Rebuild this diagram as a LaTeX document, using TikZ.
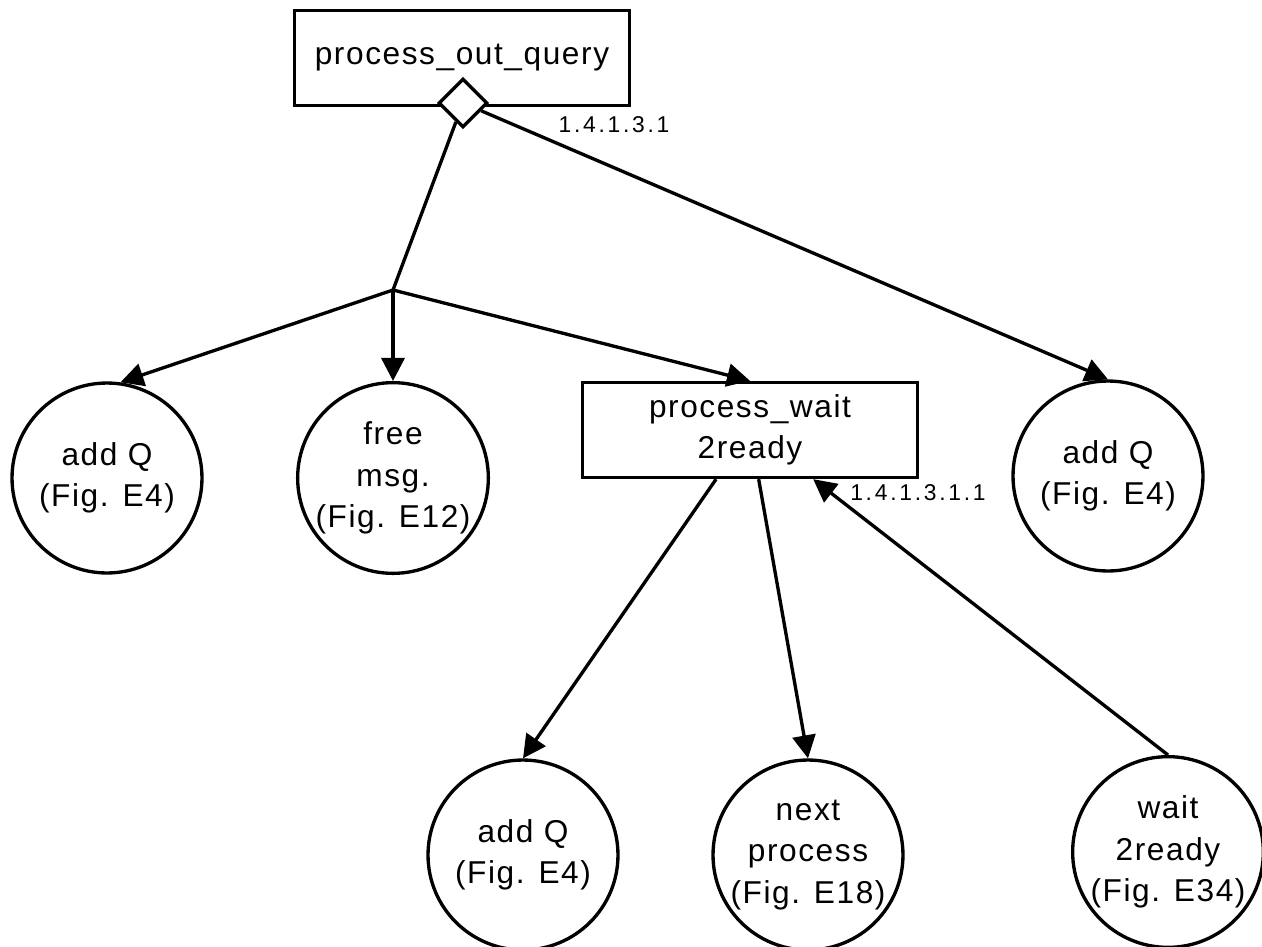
\documentclass[tikz,border=0pt]{standalone}
\usepackage{fontspec}
\setmainfont{Liberation Sans}
\newfontfamily\boxfont[LetterSpace=5]{Liberation Sans}
\newfontfamily\numfont[LetterSpace=12]{Liberation Sans}
\usetikzlibrary{arrows.meta,shapes.geometric}

\begin{document}
\begin{tikzpicture}[x=0.02cm, y=-0.02cm, line width=1.9pt,
  >={Triangle[length=4.6mm,width=4.6mm]},
  every node/.style={font=\boxfont\fontsize{18}{23.5}\selectfont, align=center},
  proc/.style={draw, rectangle, minimum width=6.7cm, minimum height=1.9cm, inner sep=0pt},
  ref/.style={draw, circle, minimum size=3.8cm, inner sep=0pt},
  num/.style={font=\numfont\fontsize{13}{15}\selectfont}]
\useasboundingbox (0,0) rectangle (1262,947);
\node [proc] (outq) at (462,58) {process\_out\_query};
\node [draw, diamond, fill=white, minimum size=0.98cm, inner sep=0pt] (sel) at (463,103) {};
\node [num] (n1) at (614,125) {1.4.1.3.1};
\coordinate (fork) at (393,290);
\node [ref] (addq1) at (107,478) {add Q\\(Fig. E4)};
\node [ref] (free) at (393,478) {free\\msg.\\(Fig. E12)};
\node [proc] (pwait) at (750,430) {process\_wait\\2ready};
\node [num] (n2) at (918,493) {1.4.1.3.1.1};
\node [ref] (addq2) at (1108,476) {add Q\\(Fig. E4)};
\node [ref] (addq3) at (523,855) {add Q\\(Fig. E4)};
\node [ref] (next) at (808,855) {next\\process\\(Fig. E18)};
\node [ref] (wait) at (1168,852) {wait\\2ready\\(Fig. E34)};
% branches
\draw (sel) -- (fork);
\draw [->] (fork) -- (addq1.82);
\draw [->] (fork) -- (free.north);
\draw [->] (fork) -- (pwait.north);
\draw [->] (sel) -- (addq2.north);
\draw [->] (pwait) -- (addq3.north);
\draw [->] (pwait) -- (next.north);
\draw [->] (wait.north) -- (pwait);
\end{tikzpicture}
\end{document}
